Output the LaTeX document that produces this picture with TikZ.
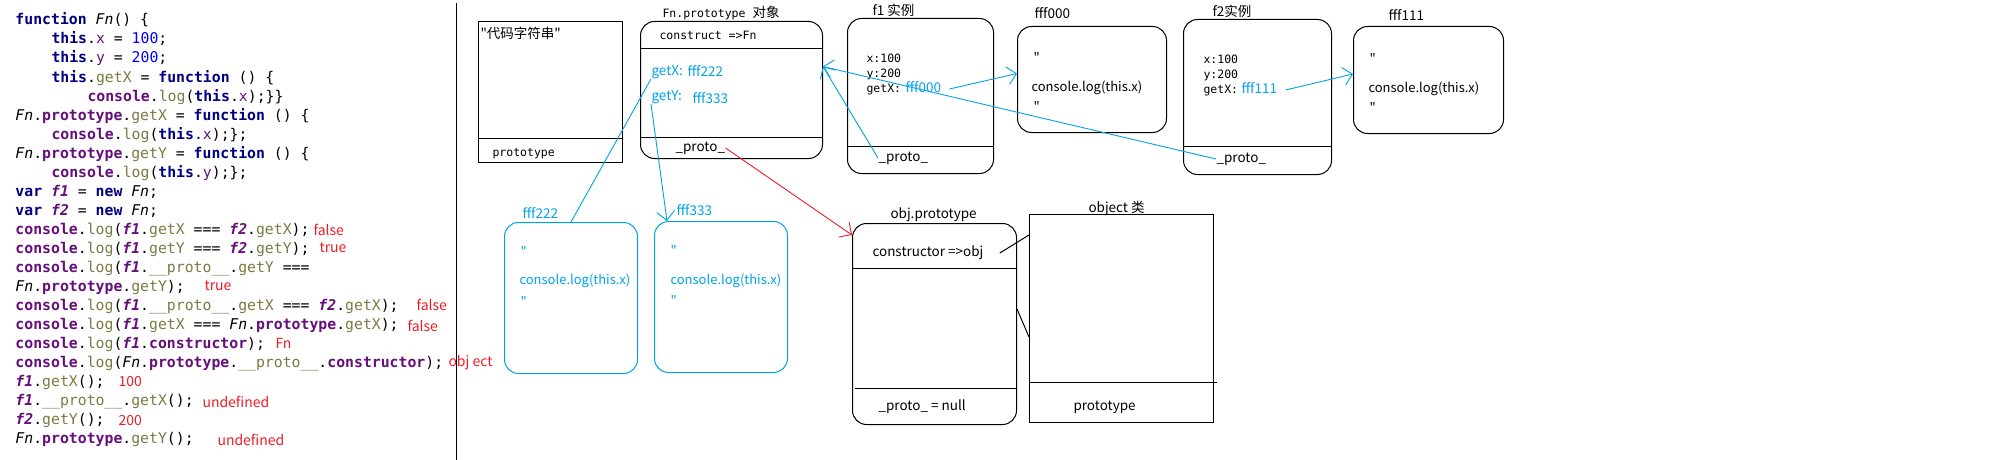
\documentclass[tikz,border=0pt]{standalone}
\usepackage{fontspec}
\setmainfont{Noto Sans CJK SC}
\newfontfamily\cjk{Noto Sans CJK SC}
\newfontfamily\codefont{DejaVu Sans Mono}
\usetikzlibrary{arrows.meta, calc}

\definecolor{kwnavy}{HTML}{000080}
\definecolor{fldpurple}{HTML}{660E7A}
\definecolor{numblue}{HTML}{0000FF}
\definecolor{mtholive}{HTML}{7A7A43}
\definecolor{linkblue}{HTML}{00A2E8}
\definecolor{outred}{HTML}{ED1C24}

% syntax colouring of the listing
\newcommand{\jkw}[1]{{\color{kwnavy}\bfseries #1}}
\newcommand{\jfld}[1]{{\color{fldpurple}#1}}
\newcommand{\jnum}[1]{{\color{numblue}#1}}
\newcommand{\jmth}[1]{{\color{mtholive}#1}}
\newcommand{\jobj}[1]{{\color{fldpurple}\bfseries #1}}
\newcommand{\jvar}[1]{{\color{fldpurple}\bfseries\itshape #1}}
\newcommand{\jcls}[1]{{\itshape #1}}

\begin{document}
\begin{tikzpicture}[x=1pt, y=-1pt, line width=1pt,
    >={Straight Barb[length=9pt, width=18pt]},
    code/.style={anchor=west, inner sep=0pt, text height=11pt, text depth=3pt,
                 font=\codefont\fontsize{14.8}{19}\selectfont},
    note/.style={anchor=west, inner sep=0pt, text height=10pt, text depth=3pt,
                 text=outred, font=\cjk\fontsize{14}{17}\selectfont},
    mono/.style={anchor=west, inner sep=0pt, text height=9pt, text depth=2pt,
                 font=\codefont\fontsize{11.5}{14}\selectfont},
    sans/.style={anchor=west, inner sep=0pt, text height=10pt, text depth=3pt,
                 font=\cjk\fontsize{13.5}{16}\selectfont},
    body/.style={sans, font=\cjk\fontsize{13}{16}\selectfont},
    rbox/.style={draw, rounded corners=14pt, anchor=north west, inner sep=0pt},
    sbox/.style={draw, anchor=north west, inner sep=0pt},
    bluelink/.style={draw=linkblue, line width=0.9pt},
    redlink/.style={draw=outred, line width=0.9pt}]
  \useasboundingbox (0,0) rectangle (2000,460);

  % Listing
  \node[code] (c1)  at (15,21)  {\jkw{function} \jcls{Fn}() \{};
  \node[code] (c2)  at (51,40)  {\jkw{this}.\jfld{x} = \jnum{100};};
  \node[code] (c3)  at (51,59)  {\jkw{this}.\jfld{y} = \jnum{200};};
  \node[code] (c4)  at (51,78)  {\jkw{this}.\jmth{getX} = \jkw{function} () \{};
  \node[code] (c5)  at (87,97)  {\jobj{console}.\jmth{log}(\jkw{this}.\jfld{x});\}\}};
  \node[code] (c6)  at (15,116) {\jcls{Fn}.\jobj{prototype}.\jmth{getX} = \jkw{function} () \{};
  \node[code] (c7)  at (51,135) {\jobj{console}.\jmth{log}(\jkw{this}.\jfld{x});\};};
  \node[code] (c8)  at (15,154) {\jcls{Fn}.\jobj{prototype}.\jmth{getY} = \jkw{function} () \{};
  \node[code] (c9)  at (51,173) {\jobj{console}.\jmth{log}(\jkw{this}.\jfld{y});\};};
  \node[code] (c10) at (15,192) {\jkw{var} \jvar{f1} = \jkw{new} \jcls{Fn};};
  \node[code] (c11) at (15,211) {\jkw{var} \jvar{f2} = \jkw{new} \jcls{Fn};};
  \node[code] (c12) at (15,230) {\jobj{console}.\jmth{log}(\jvar{f1}.\jmth{getX} === \jvar{f2}.\jmth{getX});};
  \node[code] (c13) at (15,249) {\jobj{console}.\jmth{log}(\jvar{f1}.\jmth{getY} === \jvar{f2}.\jmth{getY});};
  \node[code] (c14) at (15,268) {\jobj{console}.\jmth{log}(\jvar{f1}.\jmth{\_\_proto\_\_}.\jmth{getY} ===};
  \node[code] (c15) at (15,287) {\jcls{Fn}.\jobj{prototype}.\jmth{getY});};
  \node[code] (c16) at (15,306) {\jobj{console}.\jmth{log}(\jvar{f1}.\jmth{\_\_proto\_\_}.\jmth{getX} === \jvar{f2}.\jmth{getX});};
  \node[code] (c17) at (15,325) {\jobj{console}.\jmth{log}(\jvar{f1}.\jmth{getX} === \jcls{Fn}.\jobj{prototype}.\jmth{getX});};
  \node[code] (c18) at (15,344) {\jobj{console}.\jmth{log}(\jvar{f1}.\jobj{constructor});};
  \node[code] (c19) at (15,363) {\jobj{console}.\jmth{log}(\jcls{Fn}.\jobj{prototype}.\jmth{\_\_proto\_\_}.\jobj{constructor});};
  \node[code] (c20) at (15,382) {\jvar{f1}.\jmth{getX}();};
  \node[code] (c21) at (15,401) {\jvar{f1}.\jmth{\_\_proto\_\_}.\jmth{getX}();};
  \node[code] (c22) at (15,420) {\jvar{f2}.\jmth{getY}();};
  \node[code] (c23) at (15,439) {\jcls{Fn}.\jobj{prototype}.\jmth{getY}();};

  % Printed results
  \node[note] (n1)  at (313,232) {false};
  \node[note] (n2)  at (319,249) {true};
  \node[note] (n3)  at (204,287) {true};
  \node[note] (n4)  at (416,307) {false};
  \node[note] (n5)  at (407,328) {false};
  \node[note] (n6)  at (275,345) {Fn};
  \node[note] (n7)  at (448,363) {obj ect};
  \node[note] (n8)  at (118,383) {100};
  \node[note] (n9)  at (202,404) {undefined};
  \node[note] (n10) at (118,422) {200};
  \node[note] (n11) at (217,442) {undefined};

  \draw (456,3) -- (456,460);

  % Fn itself
  \node[sbox, minimum width=144pt, minimum height=141pt] (fnbox) at (478,21) {};
  \draw (478,138) -- (623,138);
  \node[sans] (fnsrc) at (480,35) {"代码字符串"};
  \node[mono] (fnpt) at (492,153) {prototype};

  % Fn.prototype
  \node[rbox, minimum width=182pt, minimum height=137pt] (fnproto) at (640,21) {};
  \draw (640,49) -- (823,49);
  \draw (640,137) -- (822,137);
  \node[mono] (fnptitle) at (662,14) {Fn.prototype {\cjk\fontsize{13.5}{16}\selectfont 对象}};
  \node[mono] (ctorfn) at (659,36) {construct =>Fn};
  \node[sans, text=linkblue] (getx) at (651,72) {getX:};
  \node[sans, text=linkblue] (a222) at (687,73) {fff222};
  \node[sans, text=linkblue] (gety) at (651,97) {getY:};
  \node[sans, text=linkblue] (a333) at (692,100) {fff333};
  \node[sans] (pproto) at (675,148) {\_proto\_};

  % f1
  \node[rbox, minimum width=146pt, minimum height=155pt] (f1box) at (847,18) {};
  \draw (847,146) -- (993,146);
  \node[sans] (f1title) at (872,12) {f1 实例};
  \node[mono] (f1x) at (866,59) {x:100};
  \node[mono] (f1y) at (866,74) {y:200};
  \node[mono] (f1g) at (866,89) {getX:};
  \node[sans, text=linkblue] (addr000) at (905,89) {fff000};
  \node[sans] (f1proto) at (878,158) {\_proto\_};

  % fff000
  \node[rbox, minimum width=149pt, minimum height=106pt] (f000) at (1017,26) {};
  \node[sans] (t000) at (1034,15) {fff000};
  \node[body] (q000a) at (1033,59) {"};
  \node[body] (b000) at (1031,88) {console.log(this.x)};
  \node[body] (q000b) at (1033,108) {"};

  % f2
  \node[rbox, minimum width=148pt, minimum height=155pt] (f2box) at (1183,19) {};
  \draw (1183,146) -- (1331,146);
  \node[sans] (f2title) at (1212,13) {f2实例};
  \node[mono] (f2x) at (1203,60) {x:100};
  \node[mono] (f2y) at (1203,75) {y:200};
  \node[mono] (f2g) at (1203,90) {getX:};
  \node[sans, text=linkblue] (addr111) at (1241,90) {fff111};
  \node[sans] (f2proto) at (1216,159) {\_proto\_};

  % fff111
  \node[rbox, minimum width=150pt, minimum height=107pt] (f111) at (1353,26) {};
  \node[sans] (t111) at (1388,17) {fff111};
  \node[body] (q111a) at (1369,60) {"};
  \node[body] (b111) at (1368,89) {console.log(this.x)};
  \node[body] (q111b) at (1369,109) {"};

  % fff222 and fff333
  \node[rbox, draw=linkblue, minimum width=133pt, minimum height=151pt] (f222) at (504,222) {};
  \node[sans, text=linkblue] (t222) at (522,215) {fff222};
  \node[body, text=linkblue] (q222a) at (520,253) {"};
  \node[body, text=linkblue] (b222) at (519,281) {console.log(this.x)};
  \node[body, text=linkblue] (q222b) at (520,303) {"};
  \node[rbox, draw=linkblue, minimum width=133pt, minimum height=151pt] (f333) at (654,221) {};
  \node[sans, text=linkblue] (t333) at (676,212) {fff333};
  \node[body, text=linkblue] (q333a) at (670,252) {"};
  \node[body, text=linkblue] (b333) at (670,281) {console.log(this.x)};
  \node[body, text=linkblue] (q333b) at (670,302) {"};

  % obj.prototype
  \node[rbox, minimum width=164pt, minimum height=201pt] (objproto) at (852,223) {};
  \draw (852,268) -- (1016,268);
  \draw (855,388) -- (1016,388);
  \node[sans] (optitle) at (890,215) {obj.prototype};
  \node[sans] (ctorobj) at (872,253) {constructor =>obj};
  \node[sans] (opnull) at (878,407) {\_proto\_ = null};

  % object class
  \node[sbox, minimum width=184pt, minimum height=208pt] (objclass) at (1029,214) {};
  \draw (1029,382) -- (1217,382);
  \node[sans] (octitle) at (1088,209) {object 类};
  \node[sans] (ocpt) at (1073,407) {prototype};

  % Links
  \draw[bluelink] (getx.south west) -- (f222.north);
  \draw[bluelink, ->] (gety.south west) -- ($(f333.north west)+(13,0)$);
  \draw[bluelink, ->] (f1proto.west) -- ([yshift=23.5pt]fnproto.east);
  \draw[bluelink, ->] (f2proto.west) -- ([yshift=23.5pt]fnproto.east);
  \draw[bluelink, ->] ([xshift=8pt]addr000.east) -- ([yshift=6pt]f000.west);
  \draw[bluelink, ->] ([xshift=8pt]addr111.east) -- ([yshift=6pt]f111.west);
  \draw[redlink, ->] (pproto.east) -- ([yshift=-12pt]objproto.north west);
  \draw ([xshift=16pt]ctorobj.east) -- ([yshift=-21pt]objclass.north west);
  \draw ([yshift=15pt]objproto.east) -- ([yshift=-123pt]objclass.north west);
\end{tikzpicture}
\end{document}
